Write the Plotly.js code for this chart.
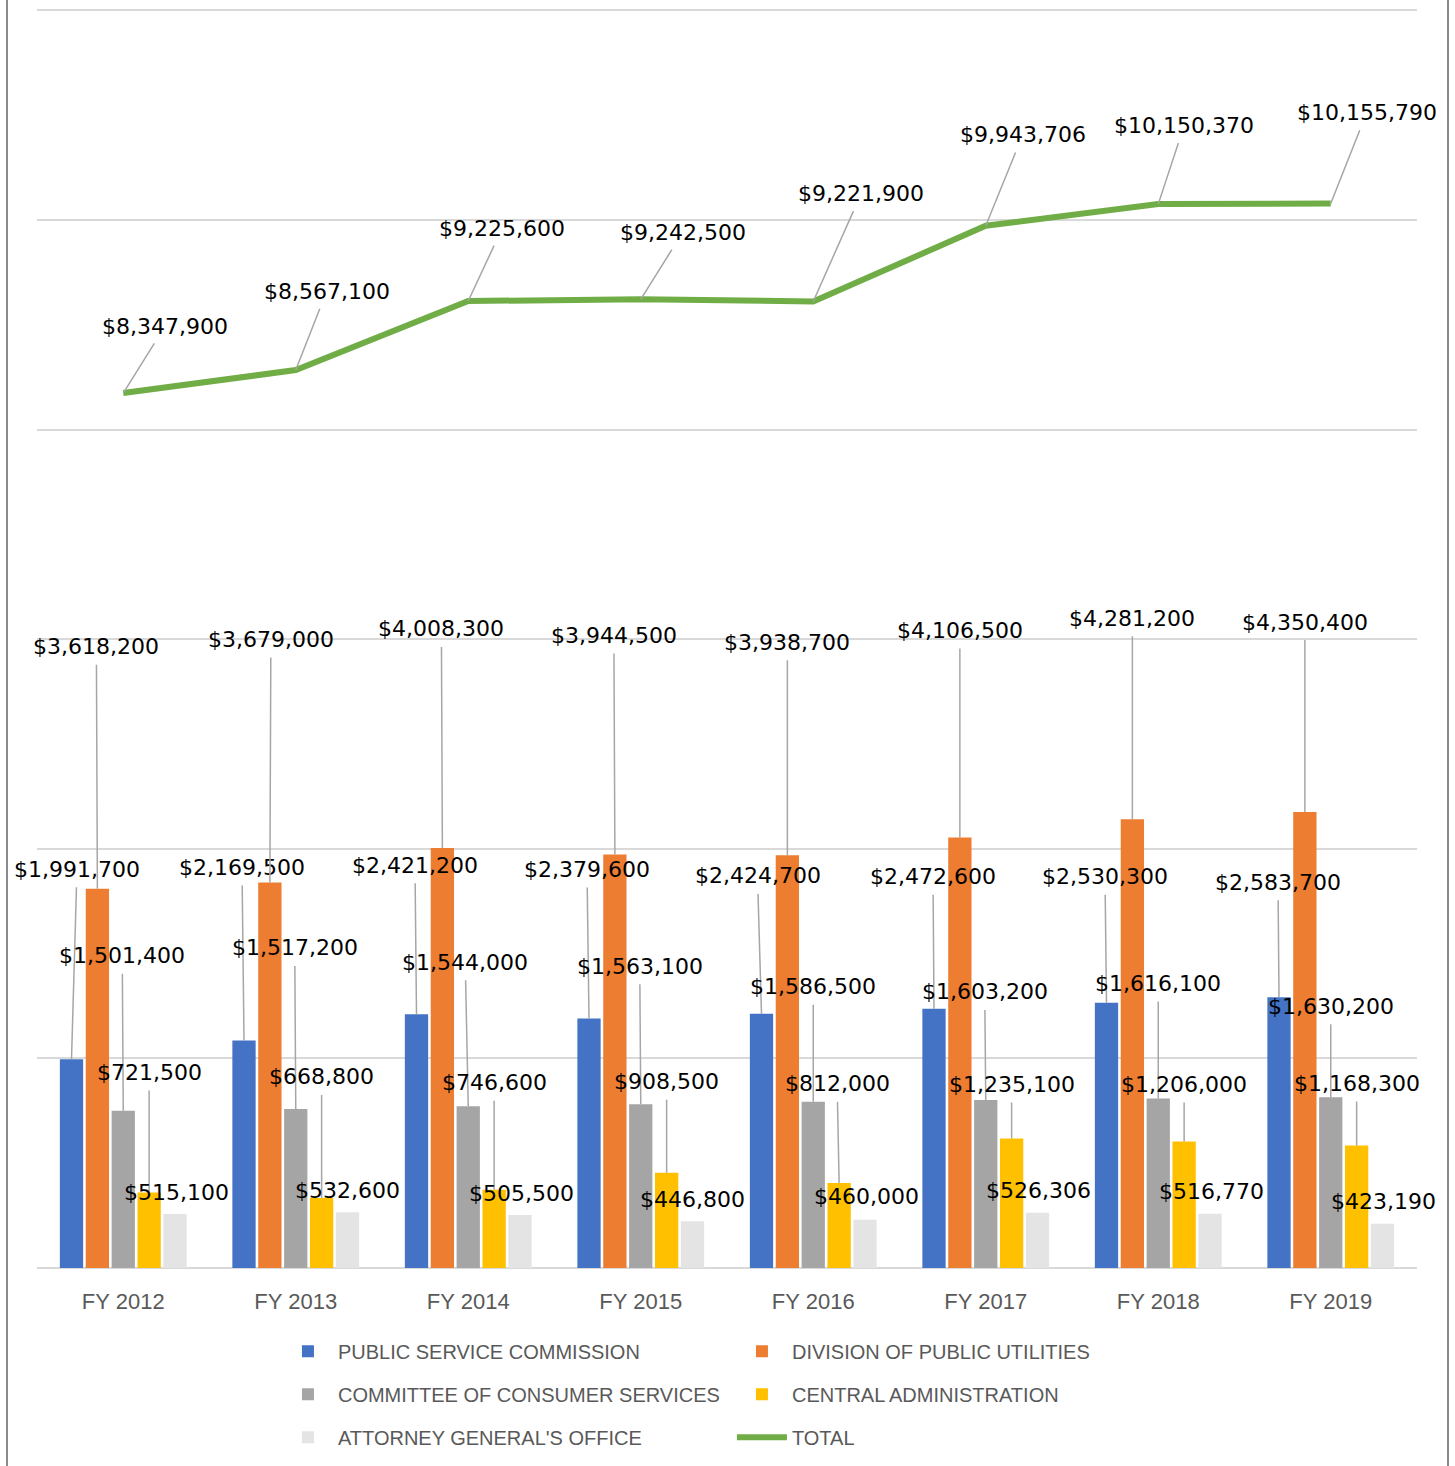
<!DOCTYPE html>
<html>
<head>
<meta charset="utf-8">
<script src="https://cdn.plot.ly/plotly-3.0.1.min.js"></script>
<style>
  html, body { margin: 0; padding: 0; background: #fff; }
  #chart { position: absolute; left: 0; top: 0; width: 1455px; height: 1466px; }
  #frame { position: absolute; left: 6px; top: 0; width: 1439px; height: 1466px;
           border-left: 2px solid #8a8a8a; border-right: 2px solid #8a8a8a; pointer-events: none; }
</style>
</head>
<body>
<div id="chart"></div>
<div id="frame"></div>
<script>
// ---- data ----
const years = ['FY 2012', 'FY 2013', 'FY 2014', 'FY 2015', 'FY 2016', 'FY 2017', 'FY 2018', 'FY 2019'];
const publicServiceCommission = [1991700, 2169500, 2421200, 2379600, 2424700, 2472600, 2530300, 2583700];
const divisionOfPublicUtilities = [3618200, 3679000, 4008300, 3944500, 3938700, 4106500, 4281200, 4350400];
const committeeOfConsumerServices = [1501400, 1517200, 1544000, 1563100, 1586500, 1603200, 1616100, 1630200];
const centralAdministration = [721500, 668800, 746600, 908500, 812000, 1235100, 1206000, 1168300];
const attorneyGeneralsOffice = [515100, 532600, 505500, 446800, 460000, 526306, 516770, 423190];
const total = [8347900, 8567100, 9225600, 9242500, 9221900, 9943706, 10150370, 10155790];

const seriesNames = ['PUBLIC SERVICE COMMISSION', 'DIVISION OF PUBLIC UTILITIES',
  'COMMITTEE OF CONSUMER SERVICES', 'CENTRAL ADMINISTRATION', "ATTORNEY GENERAL'S OFFICE", 'TOTAL'];

// ---- styling / label placement (pixel offsets of each callout from its mark) ----
const colors = ['#4472C4', '#ED7D31', '#A5A5A5', '#FFC000', '#E4E4E4', '#70AD47'];
const labelDx = [
  [5.5, -2, -1.5, -2, -4, -1, -1.5, -1],
  [-1, 1, -1, -1, 0, 0, 0, 0],
  [-1, -1, -3, -1, 0, -1, 0, 0],
  [0, 0, 0, 0, -2, 0, 0, 0],
  [1, 0, 1, 0, 1, 1, 1, 1],
  [42, 31, 34, 42, 48, 37, 26, 36]
];
const labelDy = [
  [-190, -173, -149, -149, -138, -132, -126, -115],
  [-242, -243, -219, -219, -213, -207, -201, -190],
  [-155, -161, -144, -138, -115, -108, -115, -91],
  [-120, -121, -107, -91, -99, -54, -57, -62],
  [-22, -22, -22, -22, -23, -22, -22, -22],
  [-67, -79, -73, -67, -108, -91, -79, -91]
];
const legendOf = ['legend', 'legend', 'legend2', 'legend2', 'legend3', 'legend3'];

const barSeries = [publicServiceCommission, divisionOfPublicUtilities, committeeOfConsumerServices,
  centralAdministration, attorneyGeneralsOffice];

const fmt = v => '$' + v.toLocaleString('en-US');

const traces = barSeries.map((vals, k) => ({
  type: 'bar', x: years, y: vals, name: seriesNames[k], legend: legendOf[k],
  marker: { color: colors[k] }, hoverinfo: 'x+y'
}));
traces.push({
  type: 'scatter', mode: 'lines', x: years, y: total, name: seriesNames[5], legend: legendOf[5],
  line: { color: colors[5], width: 6 }
});

const bargap = 0.25;
const slot = (1 - bargap) / barSeries.length;
const annotations = [];
const labelFont = { family: 'DejaVu Sans, Verdana, sans-serif', size: 22, color: '#000000' };
barSeries.forEach((vals, k) => {
  vals.forEach((v, i) => {
    annotations.push({
      x: i + (k - (barSeries.length - 1) / 2) * slot, y: v, xref: 'x', yref: 'y',
      text: fmt(v), font: labelFont, showarrow: true, arrowhead: 0, arrowwidth: 1.5,
      arrowcolor: k === 4 ? 'rgba(0,0,0,0)' : '#A6A6A6', standoff: 0, startstandoff: 4,
      ax: labelDx[k][i], ay: labelDy[k][i]
    });
  });
});
total.forEach((v, i) => {
  annotations.push({
    x: i, y: v, xref: 'x', yref: 'y', text: fmt(v), font: labelFont,
    showarrow: true, arrowhead: 0, arrowwidth: 1.5, arrowcolor: '#A6A6A6',
    standoff: 0, startstandoff: 4, ax: labelDx[5][i], ay: labelDy[5][i]
  });
});

const legendBase = {
  orientation: 'h', x: 0.1746, xanchor: 'left', yanchor: 'middle',
  entrywidth: 389, entrywidthmode: 'pixels', itemwidth: 50, traceorder: 'normal',
  bgcolor: 'rgba(0,0,0,0)', font: { family: 'Liberation Sans, Arial, sans-serif', size: 20, color: '#595959' }
};

const layout = {
  width: 1455, height: 1466,
  margin: { l: 37, r: 38, t: 9, b: 193, pad: 0 },
  paper_bgcolor: '#ffffff', plot_bgcolor: '#ffffff',
  barmode: 'group', bargap: bargap, bargroupgap: 0.1,
  showlegend: true,
  xaxis: {
    type: 'category', showgrid: false, showline: false, ticks: '',
    ticklabelstandoff: 18,
    tickfont: { family: 'Liberation Sans, Arial, sans-serif', size: 22, color: '#595959' },
    range: [-0.5, 7.5]
  },
  yaxis: {
    range: [0, 12012000], tick0: 0, dtick: 2000000, showticklabels: false, ticks: '',
    showgrid: true, gridcolor: '#D9D9D9', gridwidth: 2,
    zeroline: true, zerolinecolor: '#D9D9D9', zerolinewidth: 2, showline: false
  },
  legend: Object.assign({}, legendBase, { y: -0.0661 }),
  legend2: Object.assign({}, legendBase, { y: -0.1002 }),
  legend3: Object.assign({}, legendBase, { y: -0.1345 }),
  annotations: annotations
};

Plotly.newPlot('chart', traces, layout, { displayModeBar: false, staticPlot: true });
</script>
</body>
</html>
